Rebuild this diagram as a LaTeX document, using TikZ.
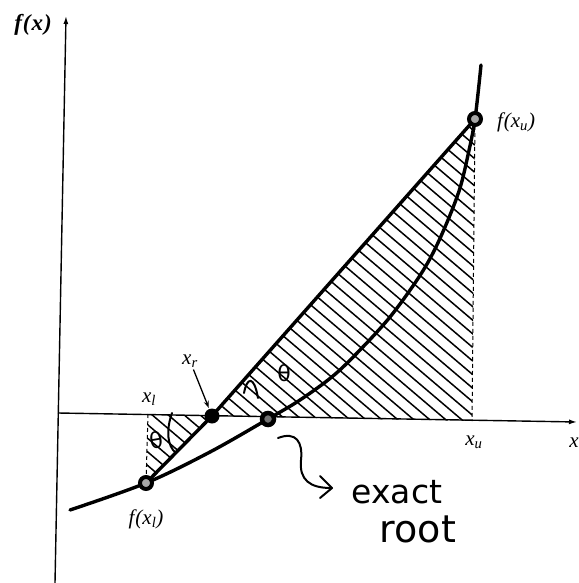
\documentclass[tikz,border=0pt]{standalone}
\usepackage{fontspec}
\setmainfont{Liberation Serif}
\newfontfamily\handfont{DejaVu Sans}
\newfontfamily\thetafont{DejaVu Sans}
\usetikzlibrary{arrows.meta}
\begin{document}
\begin{tikzpicture}[x=1pt,y=-1pt,
  thickline/.style={line width=3.4pt, line cap=round, line join=round},
  axisline/.style={line width=1.4pt, -{Latex[length=8pt,width=5pt]}},
  hatchline/.style={line width=1.5pt},
  dashline/.style={line width=1pt, dash pattern=on 4pt off 3pt},
  ring/.style={circle, draw, line width=4pt, fill=black!35, minimum size=12pt, inner sep=0pt},
  blackdot/.style={circle, fill, minimum size=15pt, inner sep=0pt},
  lbl/.style={font=\fontsize{21}{23}\selectfont\itshape, inner sep=1pt},
  hand/.style={line width=2pt, line cap=round, line join=round},
  handtext/.style={inner sep=0pt},
  thetatext/.style={font=\thetafont\fontsize{22}{24}\selectfont, inner sep=0pt}]
\useasboundingbox (0,0) rectangle (578,583);
\fill[white] (0,0) rectangle (578,583);

% key points
\coordinate (pfl) at (146,483);
\coordinate (pxr) at (212,416);
\coordinate (proot) at (268,419);
\coordinate (pfu) at (475,119);
\coordinate (xlfoot) at (148,414);
\coordinate (xufoot) at (472,421);

% hatched region
\begin{scope}
  \clip (xlfoot) -- (pxr) -- (pfl) -- cycle (pxr) -- (pfu) -- (xufoot) -- cycle;
  \foreach \i in {-30,...,34} \draw[hatchline] (\i*16,0) -- ++(700,595);
\end{scope}

% axes
\coordinate (ybot) at (55,583);
\coordinate (ytop) at (66,16);
\coordinate (xleft) at (58,413);
\coordinate (xright) at (577,422);
\draw[axisline] (ybot) -- (ytop);
\draw[axisline] (xleft) -- (xright);

% dashed verticals
\draw[dashline] (xlfoot) -- (pfl);
\draw[dashline] (pfu) -- (xufoot);

% function curve
\draw[thickline] plot[smooth, tension=0.55] coordinates
  {(70,510) (pfl) (210,452) (proot) (300,400) (333,376) (360,350) (390,317) (417,280) (433,253) (448,220) (460,188) (468,155) (pfu) (481,65)};

% secant line
\draw[thickline] (pfl) -- (pxr) -- (pfu);

% points
\node[ring] (fl) at (pfl) {};
\node[blackdot] (xr) at (pxr) {};
\node[ring, line width=4.5pt, fill=black!55] (root) at (proot) {};
\node[ring] (fu) at (pfu) {};

% labels
\node[lbl, font=\fontsize{23}{25}\selectfont\bfseries\itshape] (lfx) at (33,25) {f\kern1pt(\kern1pt x\kern1pt)};
\node[lbl] (lfu) at (516,122) {f\kern1pt(x\textsubscript{\textit{u}})};
\node[lbl] (lfl) at (146,519) {f\kern1pt(x\textsubscript{\textit{l}})};
\node[lbl] (lxl) at (149,399) {x\textsubscript{\textit{l}}};
\node[lbl] (lxr) at (190,361) {x\textsubscript{\textit{r}}};
\node[lbl] (lxu) at (474,442) {x\textsubscript{\textit{u}}};
\node[lbl] (lx) at (574,443) {x};
\draw[line width=1.3pt, -{Stealth[length=7pt,width=5pt]}, shorten <=1pt, shorten >=1pt] (lxr) -- (xr);

% handwritten annotations
\node[thetatext] (th1) at (284,373) {θ};
\node[thetatext, rotate=10] (th2) at (156,440) {θ};
\draw[hand] (244,393) .. controls (247,377) and (254,375) .. (258,398);
\draw[hand] (172,413) .. controls (166,430) and (167,446) .. (176,453);
\draw[hand] (278,438) .. controls (296,431) and (303,442) .. (301,460)
  .. controls (299,480) and (310,488) .. (331,488);
\draw[hand] (320,476) -- (332,488) -- (320,498);
\node[handtext, font=\handfont\fontsize{33}{36}\selectfont] (exact) at (397,492) {exact};
\node[handtext, font=\handfont\fontsize{38}{40}\selectfont] (rootlbl) at (418,529) {root};
\end{tikzpicture}
\end{document}
